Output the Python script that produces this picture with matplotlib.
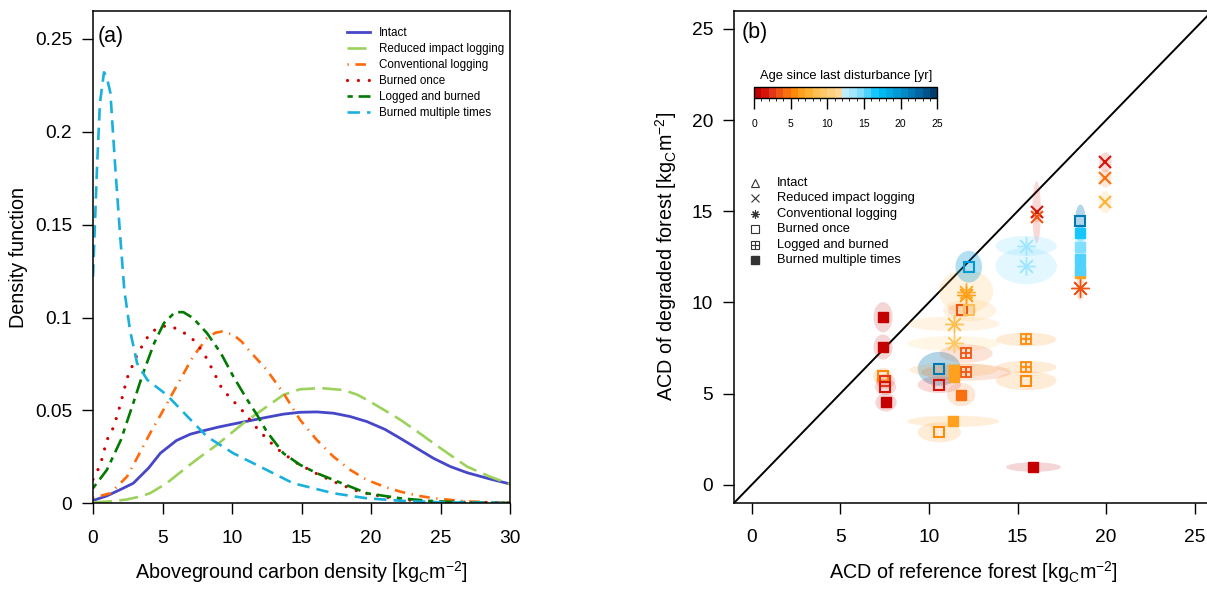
import matplotlib.pyplot as plt
import matplotlib as mpl
import numpy as np
from matplotlib.patches import Ellipse
from matplotlib.colors import ListedColormap, BoundaryNorm

plt.rcParams['font.family'] = ['Liberation Sans', 'DejaVu Sans']
plt.rcParams['mathtext.fontset'] = 'custom'
plt.rcParams['mathtext.rm'] = 'Liberation Sans'
plt.rcParams['mathtext.it'] = 'Liberation Sans:italic'
plt.rcParams['mathtext.bf'] = 'Liberation Sans:bold'

# --- (a) density curves ---
intact_x = [0, 1, 2, 2.9, 4, 4.85, 6.0, 7.0, 7.7, 9, 10.1, 11.3, 12.5, 13.7, 14.9, 16.1,
            17.3, 18.5, 19.7, 21, 22.1, 23.3, 24.5, 25.7, 26.9, 28.5, 30]
intact_y = [0.0015, 0.004, 0.0075, 0.0108, 0.019, 0.027, 0.0338, 0.0372, 0.0386, 0.041, 0.0427,
            0.0445, 0.0463, 0.048, 0.049, 0.0492, 0.0485, 0.0467, 0.044, 0.0398, 0.035, 0.0296,
            0.0242, 0.0198, 0.0165, 0.0132, 0.0104]

ril_x = [0, 1.2, 2.4, 3.3, 4.1, 5.3, 6.0, 6.8, 7.9, 8.9, 9.9, 10.8, 11.7, 12.5, 13.7, 14.9,
         16.4, 18.0, 19.0, 19.7, 21, 22.1, 23.3, 24.5, 25.7, 26.9, 28.5, 30]
ril_y = [0.0005, 0.001, 0.002, 0.0035, 0.0054, 0.0108, 0.015, 0.0198, 0.026, 0.0314, 0.0375,
         0.043, 0.0478, 0.052, 0.0584, 0.0614, 0.062, 0.061, 0.0585, 0.0557, 0.05, 0.045,
         0.0388, 0.0323, 0.026, 0.0198, 0.0145, 0.0104]

cl_x = [0, 1.25, 2.45, 3.0, 3.6, 4.2, 4.8, 6.0, 7.2, 8.2, 8.8, 9.3, 10.1, 10.7, 11.3, 12.5,
        13.7, 14.9, 16.1, 17.3, 18.5, 19.7, 21, 22.1, 23.3, 24.5, 26.9, 30]
cl_y = [0.003, 0.0054, 0.0144, 0.022, 0.0305, 0.039, 0.0467, 0.0629, 0.079, 0.0889, 0.0918,
        0.0925, 0.0907, 0.087, 0.0817, 0.0718, 0.0593, 0.0449, 0.0341, 0.0251, 0.018, 0.0126,
        0.0088, 0.0063, 0.0042, 0.0027, 0.001, 0.0003]

bo_x = [0, 0.53, 1.0, 1.5, 2.0, 2.45, 3.2, 4.1, 4.85, 5.55, 6.4, 7.1, 7.7, 8.2, 9.3, 10.8,
        12.0, 13.2, 14.6, 16.25, 17.7, 19.2, 21.0, 22.6, 25, 30]
bo_y = [0.0129, 0.0207, 0.034, 0.0413, 0.054, 0.0673, 0.0805, 0.0916, 0.0952, 0.0955, 0.0925,
        0.089, 0.0835, 0.0778, 0.0614, 0.0494, 0.0386, 0.0296, 0.0219, 0.0153, 0.0104, 0.0061,
        0.0034, 0.0018, 0.0008, 0.0002]

lb_x = [0, 1.0, 2.0, 2.9, 3.6, 4.4, 5.1, 5.9, 6.5, 7.2, 8.2, 9.2, 10.1, 11.1, 11.8, 12.5,
        13.7, 14.9, 16.1, 17.3, 18.5, 19.7, 22.1, 24.5, 27, 30]
lb_y = [0.0081, 0.018, 0.034, 0.054, 0.070, 0.0862, 0.097, 0.1029, 0.1029, 0.0997, 0.0916,
        0.0808, 0.0682, 0.0557, 0.0476, 0.0386, 0.0269, 0.0207, 0.0162, 0.0126, 0.009, 0.0054,
        0.0027, 0.0011, 0.0005, 0.0002]

bmt_x = [0, 0.29, 0.5, 0.79, 1.0, 1.25, 1.6, 1.94, 2.25, 2.66, 3.17, 3.9, 5.3, 6.8, 8.2,
         10.1, 12.0, 14.4, 17.3, 19.7, 22.1, 25, 30]
bmt_y = [0.122, 0.181, 0.2155, 0.232, 0.229, 0.221, 0.181, 0.1455, 0.115, 0.0933, 0.0754,
         0.0665, 0.0584, 0.0467, 0.0359, 0.0269, 0.0198, 0.0108, 0.0054, 0.0027, 0.0014,
         0.0005, 0.0002]

class_names = ['Intact', 'Reduced impact logging', 'Conventional logging', 'Burned once',
               'Logged and burned', 'Burned multiple times']

# --- (b) ACD of degraded vs reference forest ---
# kind: ril = reduced impact logging, cl = conventional logging, bo = burned once,
#       lb = logged and burned, bmt = burned multiple times
pt_kind = ['ril', 'ril', 'ril', 'ril', 'ril',
           'cl', 'cl', 'cl', 'cl', 'cl', 'cl', 'cl',
           'bo', 'bo', 'bo', 'bo', 'bo', 'bo', 'bo', 'bo', 'bo', 'bo', 'bo',
           'lb', 'lb', 'lb', 'lb',
           'bmt', 'bmt', 'bmt', 'bmt', 'bmt', 'bmt', 'bmt', 'bmt', 'bmt', 'bmt', 'bmt', 'bmt', 'bmt']
ref_acd = [19.96, 19.96, 19.96, 16.08, 16.08,
           15.49, 15.49, 12.1, 12.1, 11.4, 11.4, 18.55,
           12.25, 11.85, 12.29, 10.59, 10.59, 7.39, 7.55, 7.55, 10.59, 15.49, 18.55,
           15.49, 15.49, 12.1, 12.1,
           7.41, 7.41, 7.58, 11.4, 11.4, 11.82, 11.38, 15.9, 18.55, 18.55, 18.55, 18.55, 18.55]
deg_acd = [17.68, 16.8, 15.5, 14.95, 14.7,
           13.1, 12.0, 10.6, 10.4, 8.83, 7.75, 10.8,
           11.96, 9.56, 9.56, 6.36, 5.49, 5.95, 5.68, 5.37, 2.88, 5.71, 14.47,
           7.97, 6.45, 7.2, 6.17,
           9.19, 7.55, 4.52, 6.3, 5.9, 4.95, 3.48, 0.97, 11.6, 13.8, 13.04, 12.39, 11.78]
ref_sd = [0.35, 0.35, 0.35, 0.24, 0.2,
          1.73, 1.73, 1.53, 0.3, 2.6, 2.6, 0.26,
          0.75, 0.8, 1.5, 1.22, 1.22, 0.55, 0.55, 0.6, 1.22, 1.71, 0.3,
          1.71, 1.71, 1.5, 2.54,
          0.54, 0.54, 0.6, 2.5, 0.3, 0.8, 2.6, 1.55, 0.2, 0.25, 0.3, 0.2, 0.2]
deg_sd = [0.55, 0.5, 0.6, 1.7, 0.3,
          0.55, 1.0, 1.2, 0.3, 0.41, 0.41, 0.69,
          0.87, 0.37, 0.6, 0.93, 0.46, 0.46, 0.4, 0.45, 0.55, 0.52, 0.9,
          0.38, 0.34, 0.5, 0.46,
          0.83, 0.69, 0.5, 0.4, 0.3, 0.64, 0.31, 0.26, 0.3, 0.5, 0.8, 0.3, 0.3]
age_yr = [1, 4, 7, 1, 3,
          13, 13, 7, 6, 8, 9, 3,
          19, 3, 8, 21, 1, 5, 2, 1, 5, 5, 21,
          5, 5, 3, 3,
          0, 0, 0, 6, 6, 4, 6, 0, 6, 16, 14, 15, 15]

age_colors = ['#C40000', '#D41408', '#E2361A', '#EE5512', '#F87010', '#FF8A0A', '#FFA11E',
              '#FFB232', '#FFBF52', '#FFC968', '#FFD080', '#FFD898', '#BDEEFF', '#A2E6FF',
              '#80DEFF', '#50D2FF', '#16C6FF', '#00B9F2', '#00AAE4', '#009AD6', '#008AC6',
              '#0079B5', '#0067A2', '#00548A', '#003D6C']
age_cmap = ListedColormap(age_colors)
age_norm = BoundaryNorm(np.arange(0, 26), age_cmap.N)

fig = plt.figure(figsize=(12.07, 5.89), dpi=100)
ax1 = fig.add_axes([0.07705, 0.1455, 0.3455, 0.8358])
ax2 = fig.add_axes([0.6081, 0.146, 0.3964, 0.8358])

TICK_FS = 13.8
LAB_FS = 14.2

# ---------------- panel (a) ----------------
ax1.plot(intact_x, intact_y, color='#4646C8', lw=2.0, label=class_names[0])
ax1.plot(ril_x, ril_y, color='#9CD25C', lw=1.9, dashes=(7.2, 2.8), label=class_names[1])
ax1.plot(cl_x, cl_y, color='#FF6A08', lw=1.9, dashes=(0.5, 2.5, 4, 2.5), label=class_names[2])
ax1.plot(bo_x, bo_y, color='#D00000', lw=2.3, dashes=(0.01, 3.4), dash_capstyle='round',
         label=class_names[3])
ax1.plot(lb_x, lb_y, color='#007A00', lw=1.9, dashes=(2, 2.2, 5.5, 2.2), label=class_names[4])
ax1.plot(bmt_x, bmt_y, color='#1AB0DC', lw=1.9, dashes=(4.7, 2.7), label=class_names[5])

ax1.set_xlim(0, 30)
ax1.set_ylim(0, 0.265)
ax1.set_xticks([0, 5, 10, 15, 20, 25, 30])
ax1.set_yticks([0, 0.05, 0.1, 0.15, 0.2, 0.25])
ax1.set_yticklabels(['0', '0.05', '0.1', '0.15', '0.2', '0.25'])
ax1.tick_params(labelsize=TICK_FS, length=8, width=1)
ax1.tick_params(axis='x', pad=11)
ax1.tick_params(axis='y', pad=7)
ax1.set_xlabel('Aboveground carbon density [kg$_\\mathrm{C}$m$^{-2}$]', fontsize=LAB_FS, labelpad=9)
ax1.set_ylabel('Density function', fontsize=LAB_FS, labelpad=5)
ax1.text(0.012, 0.949, '(a)', transform=ax1.transAxes, fontsize=15.5, va='center', ha='left')
ax1.legend(loc='upper left', bbox_to_anchor=(0.609, 0.9675), frameon=False, fontsize=8.4,
           handlelength=2.0, handletextpad=0.75, labelspacing=0.34, borderpad=0, borderaxespad=0)
for s in ax1.spines.values():
    s.set_linewidth(1.1)

# ---------------- panel (b) ----------------
ax2.axline((0, 0), slope=1, color='black', lw=1.4, zorder=1)

for x, y, sx, sy, a in zip(ref_acd, deg_acd, ref_sd, deg_sd, age_yr):
    c = age_cmap(age_norm(a))
    ax2.add_patch(Ellipse((x, y), 2 * sx, 2 * sy, facecolor=c, edgecolor='none',
                          alpha=0.16 if a < 12 else 0.3, zorder=2))

for x, y, a, k in zip(ref_acd, deg_acd, age_yr, pt_kind):
    c = age_cmap(age_norm(a))
    if k == 'ril':
        ax2.plot(x, y, marker='x', ms=8.5, mew=1.5, color=c, ls='none', zorder=3)
    elif k == 'cl':
        ax2.plot(x, y, marker=(8, 2, 0), ms=13, mew=1.0, color=c, ls='none', zorder=3)
    elif k == 'bo':
        ax2.plot(x, y, marker='s', ms=7.5, mfc='none', mec=c, mew=1.5, ls='none', zorder=3)
    elif k == 'lb':
        ax2.plot(x, y, marker='s', ms=7.5, mfc='none', mec=c, mew=1.3, ls='none', zorder=3)
        ax2.plot(x, y, marker='+', ms=7.5, mew=1.3, color=c, ls='none', zorder=3)
    else:
        ax2.plot(x, y, marker='s', ms=7.2, color=c, mec=c, ls='none', zorder=3)

ax2.set_xlim(-1, 26)
ax2.set_ylim(-1, 26)
ax2.set_xticks([0, 5, 10, 15, 20, 25])
ax2.set_yticks([0, 5, 10, 15, 20, 25])
ax2.tick_params(labelsize=TICK_FS, length=8, width=1)
ax2.tick_params(axis='x', pad=11)
ax2.tick_params(axis='y', pad=7)
ax2.set_xlabel('ACD of reference forest [kg$_\\mathrm{C}$m$^{-2}$]', fontsize=LAB_FS, labelpad=9)
ax2.set_ylabel('ACD of degraded forest [kg$_\\mathrm{C}$m$^{-2}$]', fontsize=LAB_FS, labelpad=9)
ax2.text(0.016, 0.955, '(b)', transform=ax2.transAxes, fontsize=15.5, va='center', ha='left')
for s in ax2.spines.values():
    s.set_linewidth(1.1)

# marker legend
legend_markers = ['^', 'x', (8, 2, 0), 's', 's', 's']
for i, (name, m) in enumerate(zip(class_names, legend_markers)):
    ly = 0.650 - i * 15.4 / 492
    if i == 5:
        ax2.plot(0.0439, ly, marker=m, ms=5.5, color='#333333', ls='none', transform=ax2.transAxes)
    else:
        ax2.plot(0.0439, ly, marker=m, ms=5.8, mfc='none', mec='#333333', mew=0.8, ls='none',
                 transform=ax2.transAxes)
    if i == 4:
        ax2.plot(0.0439, ly, marker='+', ms=5.8, mew=0.8, color='#333333', ls='none',
                 transform=ax2.transAxes)
    ax2.text(0.0899, ly, name, transform=ax2.transAxes, fontsize=9.3, va='center', ha='left')

# age colour bar
cax = fig.add_axes([0.6247, 0.8331, 0.1519, 0.01868])
cb = mpl.colorbar.ColorbarBase(cax, cmap=age_cmap, norm=age_norm, orientation='horizontal',
                               ticks=[0, 5, 10, 15, 20, 25])
cb.outline.set_linewidth(1)
cax.tick_params(length=8, width=1, labelsize=7.5, pad=7)
cax.text(0.5, 1.5, 'Age since last disturbance [yr]', transform=cax.transAxes, fontsize=9.3,
         ha='center', va='bottom')

fig.savefig('out.png', dpi=100)
